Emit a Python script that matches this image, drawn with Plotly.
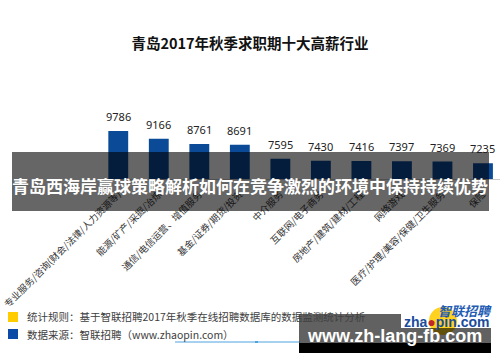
import plotly.graph_objects as go

categories = [
    "专业服务/咨询(财会/法律/人力资源等)",
    "能源/矿产/采掘/冶炼",
    "通信/电信运营、增值服务",
    "基金/证券/期货/投资",
    "中介服务",
    "互联网/电子商务",
    "房地产/建筑/建材/工程",
    "网络游戏",
    "医疗/护理/美容/保健/卫生服务",
    "保险",
]
salaries = [9786, 9166, 8761, 8691, 7595, 7430, 7416, 7397, 7369, 7235]

title_text = "青岛2017年秋季求职期十大高薪行业"
banner_text = "青岛西海岸赢球策略解析如何在竞争激烈的环境中保持持续优势"
note_rule = "统计规则：基于智联招聘2017年秋季在线招聘数据库的数据监测统计分析"
note_source = "数据来源：智联招聘（www.zhaopin.com）"
watermark = "www.zh-lang-fb.com"

W, H = 500, 362
ML, MR, MT, MB = 98, 0, 100, 183
PW, PH = W - ML - MR, H - MT - MB


def px(x):
    return (x - ML) / PW


def py(y):
    return (H - MB - y) / PH


CJK = "Noto Sans CJK SC"

fig = go.Figure()
fig.add_trace(go.Bar(
    x=categories, y=salaries, width=0.49,
    marker=dict(color="#0a4a97", line=dict(width=0)),
    hoverinfo="skip",
))

annotations = []
for c, v in zip(categories, salaries):
    annotations.append(dict(
        x=c, y=v, xref="x", yref="y", text=str(v), showarrow=False,
        yanchor="bottom", yshift=5, font=dict(family="Noto Sans", size=11, color="#222222"),
    ))

shapes = []
# banner
shapes.append(dict(type="rect", xref="paper", yref="paper", layer="above",
                   x0=px(12), x1=px(489), y0=py(211), y1=py(152),
                   fillcolor="rgba(0,0,0,0.6)", line=dict(width=0)))
# legend squares
shapes.append(dict(type="rect", xref="paper", yref="paper", layer="above",
                   x0=px(8), x1=px(18), y0=py(322), y1=py(312),
                   fillcolor="#ffcc00", line=dict(width=0)))
shapes.append(dict(type="rect", xref="paper", yref="paper", layer="above",
                   x0=px(8), x1=px(18), y0=py(339), y1=py(329),
                   fillcolor="#0b4aa6", line=dict(width=0)))
# thin blue line
shapes.append(dict(type="line", xref="paper", yref="paper", layer="above",
                   x0=px(175), x1=px(300), y0=py(342), y1=py(342),
                   line=dict(color="#4da3e0", width=1)))
shapes.append(dict(type="rect", xref="paper", yref="paper", layer="above",
                   x0=px(255), x1=px(258), y0=py(343), y1=py(341),
                   fillcolor="#4da3e0", line=dict(width=0)))
# watermark gray box (left part)
shapes.append(dict(type="rect", xref="paper", yref="paper", layer="above",
                   x0=px(299), x1=px(401), y0=py(343), y1=py(314),
                   fillcolor="rgba(0,0,0,0.62)", line=dict(width=0)))
# logo yellow circle
shapes.append(dict(type="circle", xref="paper", yref="paper", layer="above",
                   x0=px(429), x1=px(457), y0=py(335), y1=py(307),
                   fillcolor="#ffd21f", line=dict(width=0)))
# watermark gray box (bottom right part)
shapes.append(dict(type="rect", xref="paper", yref="paper", layer="above",
                   x0=px(401), x1=px(491), y0=py(343), y1=py(328),
                   fillcolor="rgba(0,0,0,0.62)", line=dict(width=0)))
# black strip
shapes.append(dict(type="rect", xref="paper", yref="paper", layer="above",
                   x0=px(299), x1=px(491), y0=py(353), y1=py(343),
                   fillcolor="#000000", line=dict(width=0)))

annotations += [
    dict(x=px(250), y=py(185), xref="paper", yref="paper", showarrow=False,
         text="<b>" + banner_text + "</b>", xanchor="center", yanchor="middle",
         font=dict(family=CJK, size=17, color="#ffffff")),
    dict(x=px(25), y=py(316), xref="paper", yref="paper", showarrow=False,
         text=note_rule, xanchor="left", yanchor="middle",
         font=dict(family=CJK, size=10.5, color="#404040")),
    dict(x=px(25), y=py(334), xref="paper", yref="paper", showarrow=False,
         text=note_source, xanchor="left", yanchor="middle",
         font=dict(family=CJK, size=10.5, color="#404040")),
    dict(x=px(465), y=py(310), xref="paper", yref="paper", showarrow=False,
         text="<b><i>智联招聘</i></b>", xanchor="center", yanchor="middle",
         font=dict(family=CJK, size=13, color="#1f5db5")),
    dict(x=px(446), y=py(322), xref="paper", yref="paper", showarrow=False,
         text="<b>zha<span style='color:#c0282d'>●</span>pin.com</b>", xanchor="center", yanchor="middle",
         font=dict(family="Liberation Sans", size=14, color="#1a4c9c")),
    dict(x=px(394), y=py(336), xref="paper", yref="paper", showarrow=False,
         text="<b>" + watermark + "</b>", xanchor="center", yanchor="middle",
         font=dict(family="Liberation Sans", size=18, color="#ffffff")),
]

fig.update_layout(
    width=W, height=H,
    margin=dict(l=ML, r=MR, t=MT, b=MB, pad=0, autoexpand=False),
    paper_bgcolor="#ffffff", plot_bgcolor="#ffffff",
    showlegend=False,
    title=dict(text="<b>" + title_text + "</b>", x=0.5, xref="container", xanchor="center",
               y=1 - 44 / H, yref="container", yanchor="middle",
               font=dict(family=CJK, size=14.5, color="#111111")),
    xaxis=dict(type="category", range=[-0.5, 9.42], showline=True, linecolor="#c8c8c8",
               linewidth=1, ticks="", tickangle=-45, showgrid=False, zeroline=False,
               automargin=False, ticklabelstandoff=5,
               tickfont=dict(family=CJK, size=9.5, color="#333333")),
    yaxis=dict(visible=False, range=[6000, 12220], showgrid=False, zeroline=False,
               automargin=False),
    shapes=shapes,
    annotations=annotations,
)

fig.write_html("out.html")
